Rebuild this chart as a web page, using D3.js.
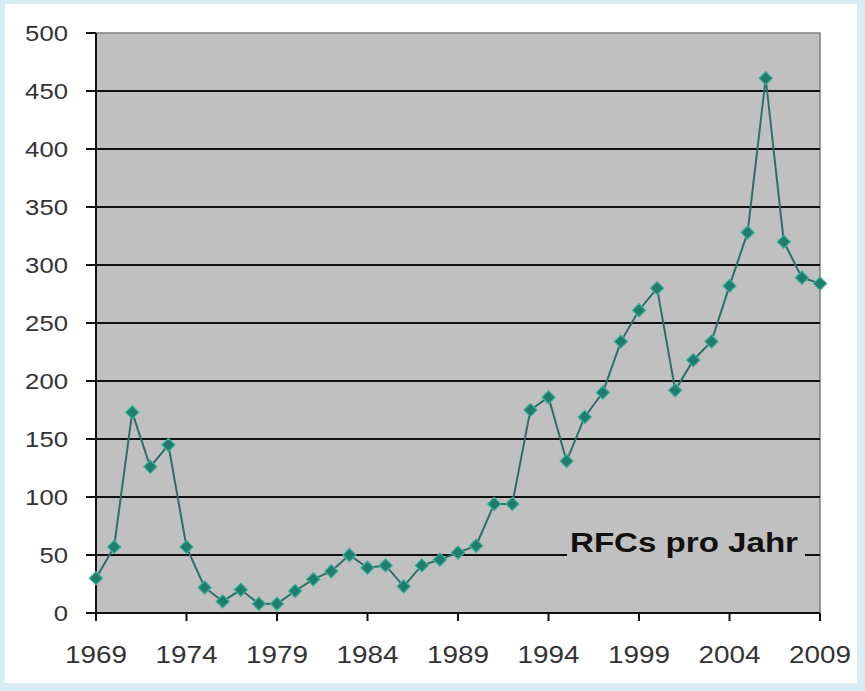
<!DOCTYPE html>
<html><head><meta charset="utf-8">
<script src="https://cdn.jsdelivr.net/npm/d3@7"></script>
<style>body{margin:0;background:#d8ecf4;} svg{display:block;}</style>
</head><body>
<script>
const years = d3.range(1969, 2010);
const rfcs = [30,57,173,126,145,57,22,10,20,8,8,19,29,36,50,39,41,23,41,46,52,58,94,94,175,186,131,169,190,234,261,280,192,218,234,282,328,461,320,289,284];
const yTicks = [0,50,100,150,200,250,300,350,400,450,500];
const xTickYears = [1969,1974,1979,1984,1989,1994,1999,2004,2009];
const label = "RFCs pro Jahr";

const W = 865, H = 691;
const m = {left:96, right:45, top:33, bottom:78};
const svg = d3.select("body").append("svg").attr("width", W).attr("height", H);
svg.append("rect").attr("x",0).attr("y",0).attr("width",W).attr("height",H).attr("fill","#d8ecf4");
svg.append("rect").attr("x",5).attr("y",4).attr("width",852).attr("height",679).attr("fill","#ffffff");

const x = d3.scaleLinear().domain([1969,2009]).range([m.left, W - m.right]);
const y = d3.scaleLinear().domain([0,500]).range([H - m.bottom, m.top]);

// plot area
svg.append("rect").attr("x", x(1969)).attr("y", y(500))
  .attr("width", x(2009)-x(1969)).attr("height", y(0)-y(500))
  .attr("fill","#c0c0c0").attr("stroke","#808080").attr("stroke-width",1.5);

// gridlines
svg.append("g").selectAll("line").data(yTicks.filter(d=>d>0 && d<500)).join("line")
  .attr("x1", x(1969)).attr("x2", x(2009))
  .attr("y1", d=>y(d)).attr("y2", d=>y(d))
  .attr("stroke","#111").attr("stroke-width",2);

// label box covering gridline
svg.append("rect").attr("x",567).attr("y",526).attr("width",238).attr("height",34).attr("fill","#c0c0c0");
svg.append("text").attr("x",570).attr("y",552).text(label)
  .attr("font-family","Arial, 'Liberation Sans', sans-serif").attr("font-weight","bold")
  .attr("font-size",27).attr("fill","#111")
  .attr("textLength",228).attr("lengthAdjust","spacingAndGlyphs");

// axes
const ax = svg.append("g").attr("stroke","#111").attr("stroke-width",2);
ax.append("line").attr("x1",x(1969)).attr("x2",x(1969)).attr("y1",y(500)).attr("y2",y(0)+1);
ax.append("line").attr("x1",x(1969)-1).attr("x2",x(2009)).attr("y1",y(0)).attr("y2",y(0));
ax.selectAll(".yt").data(yTicks).join("line").attr("class","yt")
  .attr("x1",x(1969)-10).attr("x2",x(1969)).attr("y1",d=>y(d)).attr("y2",d=>y(d));
ax.selectAll(".xt").data(xTickYears).join("line").attr("class","xt")
  .attr("x1",d=>x(d)).attr("x2",d=>x(d)).attr("y1",y(0)).attr("y2",y(0)+8);

const font = "Arial, 'Liberation Sans', sans-serif";
svg.append("g").selectAll("text").data(yTicks).join("text")
  .attr("x",68).attr("y",d=>y(d)+8).attr("text-anchor","end")
  .attr("font-family",font).attr("font-size",22).attr("fill","#333")
  .attr("textLength",d=>String(d).length*14.3).attr("lengthAdjust","spacingAndGlyphs")
  .text(d=>d);
svg.append("g").selectAll("text").data(xTickYears).join("text")
  .attr("x",d=>x(d)).attr("y",663).attr("text-anchor","middle")
  .attr("font-family",font).attr("font-size",23).attr("fill","#333")
  .attr("textLength",62).attr("lengthAdjust","spacingAndGlyphs")
  .text(d=>d);

// line
const data = years.map((yr,i)=>({yr, v:rfcs[i]}));
svg.append("path").datum(data)
  .attr("d", d3.line().x(d=>x(d.yr)).y(d=>y(d.v)))
  .attr("fill","none").attr("stroke","#2b6f68").attr("stroke-width",2);
svg.append("g").selectAll("path").data(data).join("path")
  .attr("transform", d=>`translate(${x(d.yr)},${y(d.v)})`)
  .attr("d", d3.symbol().type(d3.symbolDiamond2).size(110))
  .attr("fill","#1f7d6c").attr("stroke","#3bb09a").attr("stroke-width",1.2);
</script>
</body></html>
